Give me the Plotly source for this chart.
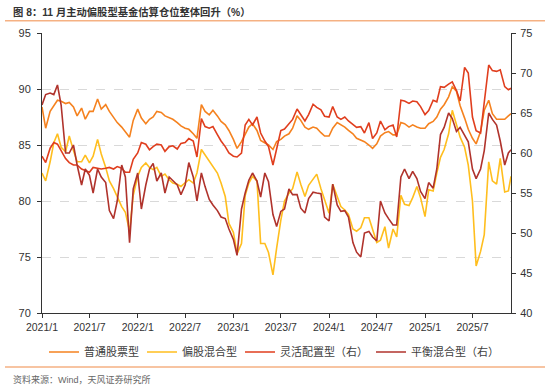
import pandas as pd
import plotly.graph_objects as go

# semi-monthly sample dates, plus final data date
dates = list(pd.date_range("2021-01-01", "2025-11-15", freq="SMS")) + [pd.Timestamp("2025-11-25")]

common_stock = [  # 普通股票型 (left axis)
    88.4, 86.5, 88.0, 88.5, 89.0, 88.9, 88.7, 88.8, 88.4, 87.6,
    88.3, 87.3, 88.0, 88.0, 89.1, 88.2, 88.6, 88.0, 87.5, 87.0,
    86.6, 86.2, 85.7, 87.2, 88.2, 87.4, 86.9, 87.3, 87.5, 88.0,
    87.9, 87.6, 87.4, 87.3, 87.0, 86.7, 86.5, 86.4, 86.0, 85.6,
    88.6, 88.0, 87.7, 88.1, 87.6, 87.1, 86.8, 86.3, 85.5, 84.7,
    85.3, 85.9, 86.6, 86.9, 86.3, 85.4, 85.2, 85.0, 84.6, 85.3,
    85.5, 85.8, 86.0, 86.5, 87.6, 87.2, 86.6, 86.4, 86.6, 86.5,
    86.1, 85.8, 85.8, 86.5, 87.0, 86.8, 86.6, 86.3, 86.0, 85.6,
    85.4, 85.3, 85.0, 84.7, 85.1, 85.8, 86.1, 86.2, 85.9, 85.9,
    87.0, 86.9, 86.6, 86.8, 86.6, 86.5, 86.5, 86.9, 87.1, 87.5,
    88.2, 88.6, 89.3, 90.2, 89.8, 88.5, 87.4, 86.4, 85.6, 85.1,
    86.2, 88.1, 89.0, 87.8, 87.3, 87.3, 87.3, 87.6, 87.8,
]

hybrid_equity = [  # 偏股混合型 (left axis)
    82.5, 81.8, 83.5, 85.2, 86.0, 84.8, 84.4, 85.8, 84.5, 83.5,
    83.5, 84.1, 83.4, 84.0, 85.5, 84.2, 83.0, 81.8, 81.1, 80.4,
    79.5, 79.0, 77.3, 80.5, 82.2, 83.0, 83.4, 83.0, 82.8, 83.0,
    82.2, 82.4, 81.9, 81.6, 81.5, 81.3, 81.6, 81.9, 81.6, 82.5,
    84.6, 84.1, 83.6, 83.1, 82.5, 81.6, 80.4, 78.0, 77.2, 75.3,
    76.2, 80.5, 81.6, 82.2, 81.8, 76.2, 76.2, 75.4, 73.4, 75.8,
    78.3, 80.0, 80.7, 81.1, 82.6, 81.5, 80.4, 81.4, 81.9, 82.4,
    81.1, 80.1, 78.9, 81.5, 80.5, 79.5, 79.2, 78.8, 77.5, 77.3,
    77.6, 78.5, 78.5, 77.4, 76.3, 76.5, 77.7, 75.8, 77.5, 76.8,
    80.5, 79.7, 79.6, 80.3, 81.3, 80.3, 78.6, 81.0, 80.9, 82.5,
    83.9, 84.6, 86.0, 88.1, 86.9, 85.7, 84.8, 83.2, 80.0, 74.2,
    75.5, 77.0, 83.5, 81.8, 81.5, 83.8, 80.8, 80.9, 82.2,
]

flexible = [  # 灵活配置型 (right axis)
    59.6, 58.8, 60.6, 61.3, 61.1, 60.2, 59.3, 58.8, 58.5, 58.5,
    58.0, 57.8, 57.6, 58.2, 58.1, 58.0, 58.1, 58.2, 58.0, 58.3,
    58.1, 57.6, 57.6, 59.2, 60.0, 61.3, 61.1, 60.4, 60.8, 61.1,
    61.0, 60.2, 60.8, 60.9, 60.5, 61.2, 61.3, 61.8, 61.5, 59.5,
    64.3, 63.3, 63.1, 63.3, 62.3, 61.5, 60.8, 60.0, 59.6, 59.5,
    60.0, 63.5, 64.2, 63.5, 64.5, 62.5, 61.5, 60.8, 58.5, 60.5,
    62.8, 63.0, 63.7, 64.2, 65.5, 64.8, 64.0, 64.8, 66.1, 65.7,
    65.4, 64.6, 64.5, 65.8, 64.5, 64.2, 64.5, 64.0, 63.6, 63.2,
    63.3, 62.5, 63.8, 61.8, 62.5, 64.0, 62.9, 63.3, 63.5, 62.0,
    66.6, 66.5, 66.2, 66.5, 66.4, 65.8, 64.8, 65.3, 66.6, 66.4,
    68.3, 68.2, 68.6, 68.9, 67.8, 66.5, 70.7, 70.0, 64.5, 62.8,
    62.5, 66.5, 71.0, 70.3, 70.2, 70.4, 68.3, 67.9, 68.1,
]

balanced = [  # 平衡混合型 (right axis)
    66.0, 67.3, 67.5, 67.3, 68.5, 66.0, 60.0, 60.0, 61.0, 58.5,
    56.0, 58.0, 57.2, 55.0, 58.0, 57.0, 56.3, 52.8, 51.8, 54.0,
    58.5, 57.0, 48.8, 55.5, 57.5, 53.0, 56.0, 58.0, 58.7, 56.5,
    57.5, 55.0, 57.0, 56.5, 56.0, 54.8, 56.0, 58.8, 57.0, 54.0,
    57.5, 55.8, 54.2, 53.5, 52.8, 52.0, 51.8, 50.5, 49.2, 47.2,
    53.0, 55.0, 56.6, 57.5, 56.5, 54.5, 57.5, 56.4, 52.3, 50.8,
    52.7, 53.0, 55.5, 54.8, 54.8, 53.1, 52.5, 54.3, 55.1, 55.0,
    54.9, 52.0, 51.5, 56.1, 53.5, 52.7, 52.8, 52.0, 48.8, 47.6,
    47.0, 50.0, 50.2, 49.5, 49.0, 54.0, 52.5, 51.8, 51.0, 51.0,
    57.0, 58.0, 56.8, 57.7, 56.8, 55.2, 54.3, 56.3, 55.6, 58.0,
    62.3, 63.2, 65.0, 64.3, 62.7, 63.2, 62.3, 61.4, 58.0, 56.8,
    58.0, 60.3, 65.0, 64.2, 63.5, 61.5, 58.5, 60.0, 60.4,
]

tick_dates = ["2021-01-01", "2021-07-01", "2022-01-01", "2022-07-01", "2023-01-01",
              "2023-07-01", "2024-01-01", "2024-07-01", "2025-01-01", "2025-07-01"]
tick_labels = ["2021/1", "2021/7", "2022/1", "2022/7", "2023/1",
               "2023/7", "2024/1", "2024/7", "2025/1", "2025/7"]

FONT = "Liberation Sans, Arial, Noto Sans CJK SC, sans-serif"
W, H = 550, 387
L, R, T, B = 42, 39, 33, 74
PW, PH = W - L - R, H - T - B


def px_x(x):
    return (x - L) / PW


def px_y(y):
    return (H - B - y) / PH


fig = go.Figure()
fig.add_trace(go.Scatter(x=dates, y=common_stock, name="普通股票型", mode="lines",
                         line=dict(color="#F5821F", width=1.6), legendwidth=53))
fig.add_trace(go.Scatter(x=dates, y=hybrid_equity, name="偏股混合型", mode="lines",
                         line=dict(color="#FFBE1E", width=1.6), legendwidth=53))
fig.add_trace(go.Scatter(x=dates, y=flexible, name="灵活配置型（右）", mode="lines",
                         line=dict(color="#E03E1E", width=1.6), yaxis="y2", legendwidth=86))
fig.add_trace(go.Scatter(x=dates, y=balanced, name="平衡混合型（右）", mode="lines",
                         line=dict(color="#B0332C", width=1.6), yaxis="y2", legendwidth=86))

axis_font = dict(family=FONT, size=11, color="#333333")

fig.update_layout(
    width=W, height=H,
    margin=dict(l=L, r=R, t=T, b=B),
    paper_bgcolor="white", plot_bgcolor="white",
    font=dict(family=FONT, size=11, color="#333333"),
    showlegend=True,
    legend=dict(orientation="h", x=px_x(44), y=px_y(352), xanchor="left", yanchor="middle",
                font=dict(family=FONT, size=11, color="#404040"), bgcolor="rgba(0,0,0,0)",
                itemwidth=30),
    xaxis=dict(type="date", range=["2021-01-01", "2025-11-25"],
               tickvals=tick_dates, ticktext=tick_labels,
               ticks="outside", ticklen=4, tickcolor="#333333",
               showline=True, linecolor="#333333", linewidth=1,
               showgrid=False, zeroline=False,
               tickfont=dict(family=FONT, size=10.5, color="#333333")),
    yaxis=dict(range=[70, 95], dtick=5, tick0=70,
               ticks="outside", ticklen=4, tickcolor="#333333",
               showline=True, linecolor="#333333", linewidth=1,
               showgrid=True, gridcolor="#D9D9D9", griddash="dash", gridwidth=1,
               zeroline=False, tickfont=axis_font, ticklabelstandoff=4),
    yaxis2=dict(range=[40, 75], dtick=5, tick0=40, overlaying="y", side="right",
                ticks="outside", ticklen=4, tickcolor="#333333",
                showline=True, linecolor="#333333", linewidth=1,
                showgrid=False, zeroline=False, tickfont=axis_font, ticklabelstandoff=2),
)

# title, separator lines, source
fig.add_annotation(text="<b>图 8：11 月主动偏股型基金估算仓位整体回升（%）</b>",
                   xref="paper", yref="paper", x=px_x(11), y=px_y(11.5),
                   xanchor="left", yanchor="middle", showarrow=False,
                   font=dict(family=FONT, size=10.3, color="#333333"))
fig.add_annotation(text="资料来源：Wind，天风证券研究所",
                   xref="paper", yref="paper", x=px_x(11), y=px_y(379),
                   xanchor="left", yanchor="middle", showarrow=False,
                   font=dict(family=FONT, size=9, color="#666666"))
for yy in (20.7, 367):
    fig.add_shape(type="line", xref="paper", yref="paper",
                  x0=px_x(5), x1=px_x(545), y0=px_y(yy), y1=px_y(yy),
                  line=dict(color="#F5B183", width=1.5))

fig.write_html("out.html", config={"displayModeBar": False},
               post_script="document.body.style.margin='0';document.body.style.overflow='hidden';")
